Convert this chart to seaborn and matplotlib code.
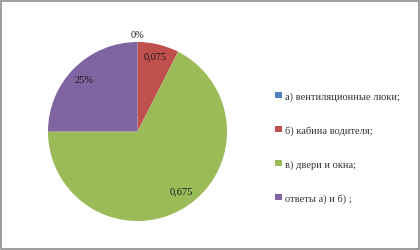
import numpy as np
import matplotlib
matplotlib.use("Agg")
import matplotlib.pyplot as plt
import seaborn as sns
from matplotlib.patches import Rectangle

categories = ["а) вентиляционные люки;", "б) кабина водителя;", "в) двери и окна;", "ответы а) и б) ;"]
values = [0.0, 0.075, 0.675, 0.25]
value_labels = ["0%", "0,075", "0,675", "25%"]
colors = ["#4F81BD", "#C0504D", "#9BBB59", "#8064A2"]

sns.set_style("white")
plt.rcParams["font.family"] = ["Liberation Serif", "DejaVu Serif"]

fig = plt.figure(figsize=(4.2, 2.51), dpi=100)
fig.patch.set_facecolor("white")
fig.add_artist(Rectangle((0.002, 0.004), 0.995, 0.99, transform=fig.transFigure,
                         fill=False, edgecolor="#8c8c8c", linewidth=1.2))

ax = fig.add_axes([48 / 420, 29 / 251, 179 / 420, 179 / 251])
wedges, _ = ax.pie(values, colors=colors, startangle=90, counterclock=False,
                   radius=1.0, wedgeprops=dict(linewidth=0))
ax.set_aspect("equal")
ax.set_xlim(-1, 1)
ax.set_ylim(-1, 1)
ax.axis("off")

dists = [1.08, 0.87, 0.83, 0.83]
angle_shift = [0, 0, 5, 1]
for w, lab, d, s in zip(wedges, value_labels, dists, angle_shift):
    ang = np.deg2rad((w.theta1 + w.theta2) / 2 + s)
    ax.text(d * np.cos(ang), d * np.sin(ang), lab, ha="center", va="center",
            fontsize=7.5, color="#1a1a1a", clip_on=False)

handles = [plt.Rectangle((0, 0), 1, 1, facecolor=c, edgecolor="none") for c in colors]
fig.legend(handles, categories, loc="center left", bbox_to_anchor=(266 / 420, 0.41),
           frameon=False, fontsize=7.5, handlelength=0.6, handleheight=0.6,
           handletextpad=0.3, labelspacing=2.33, labelcolor="#333333")

fig.savefig("out.png", dpi=100, facecolor="white")
